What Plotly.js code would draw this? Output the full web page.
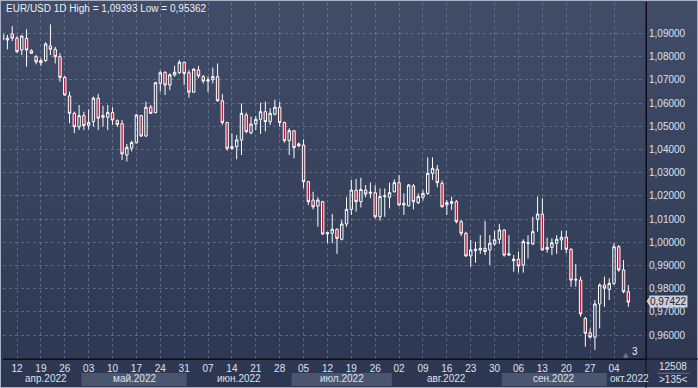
<!DOCTYPE html>
<html>
<head>
<meta charset="utf-8">
<script src="https://cdn.plot.ly/plotly-3.0.1.min.js"></script>
<style>
  html, body { margin: 0; padding: 0; background: #2c3651; }
  #wrap { position: relative; width: 698px; height: 388px;
          background: linear-gradient(to bottom, #404c68 0%, #36415c 55%, #2c3650 100%);
          box-shadow: inset 0 0 0 1px #a9b1c2; }
  #chart { position: absolute; left: 0; top: 0; width: 698px; height: 388px; }
</style>
</head>
<body>
<div id="wrap"><div id="chart"></div></div>
<script>
// ---- data (EUR/USD daily) ----
const startDate = '2022-04-07';
const openVals = [
 1.0894,1.0872,1.0898,1.0879,1.0829,1.0879,1.0826,1.0800,1.0774,1.0783,
 1.0846,1.0832,1.0800,1.0711,1.0631,1.0556,1.0498,1.0546,1.0504,1.0520,
 1.0621,1.0539,1.0539,1.0559,1.0524,1.0511,1.0376,1.0406,1.0429,1.0546,
 1.0458,1.0582,1.0559,1.0685,1.0733,1.0678,1.0721,1.0731,1.0776,1.0731,
 1.0647,1.0743,1.0714,1.0695,1.0701,1.0714,1.0610,1.0516,1.0405,1.0412,
 1.0441,1.0549,1.0472,1.0510,1.0530,1.0563,1.0520,1.0552,1.0582,1.0516,
 1.0438,1.0481,1.0416,1.0419,1.0261,1.0182,1.0156,1.0175,1.0036,1.0039,
 1.0056,1.0013,1.0079,1.0142,1.0225,1.0175,1.0225,1.0211,1.0214,1.0110,
 1.0197,1.0194,1.0218,1.0257,1.0161,1.0157,1.0243,1.0171,1.0194,1.0211,
 1.0297,1.0315,1.0254,1.0161,1.0168,1.0175,1.0089,1.0039,0.9941,0.9964,
 0.9967,0.9974,0.9967,0.9993,1.0013,1.0053,0.9945,0.9921,0.9927,0.9902,
 0.9996,0.9993,1.0099,1.0122,0.9970,0.9978,0.9996,1.0010,1.0022,0.9970,
 0.9837,0.9837,0.9672,0.9610,0.9591,0.9734,0.9816,0.9797,0.9823,0.9981,
 0.9881,0.9787
];
const highVals = [
 1.0908,1.0894,1.0932,1.0889,1.0894,1.0918,1.0832,1.0807,1.0793,1.0862,
 1.09393,1.0843,1.0815,1.0717,1.0649,1.0563,1.0592,1.0563,1.0573,1.0628,
 1.0640,1.0588,1.0592,1.0582,1.0530,1.0527,1.0424,1.0438,1.0553,1.0549,
 1.0606,1.0592,1.0692,1.0740,1.0736,1.0728,1.0760,1.0786,1.0779,1.0743,
 1.0750,1.0760,1.0721,1.0714,1.0753,1.0771,1.0639,1.0520,1.0470,1.0462,
 1.0599,1.0559,1.0542,1.0544,1.0602,1.0606,1.0578,1.0615,1.0606,1.0520,
 1.0491,1.0484,1.0430,1.0444,1.0265,1.0218,1.0194,1.0179,1.0046,1.0122,
 1.0060,1.0097,1.0194,1.0269,1.0273,1.0278,1.0247,1.0258,1.0246,1.0232,
 1.0232,1.0257,1.0271,1.0290,1.0211,1.0251,1.0251,1.0211,1.0225,1.0366,
 1.0366,1.0333,1.0266,1.0182,1.0197,1.0182,1.0096,1.0046,1.0010,1.0002,
 1.0031,1.0092,1.0031,1.0050,1.0079,1.0056,1.0031,0.9945,0.9960,1.0013,
 1.0030,1.0110,1.0197,1.0190,1.0020,1.0017,1.0031,1.0050,1.0050,0.9974,
 0.9906,0.9852,0.9679,0.9629,0.9751,0.9823,0.9852,0.9845,0.9996,0.9988,
 0.9924,0.9816
];
const lowVals = [
 1.0868,1.0832,1.0868,1.0815,1.0807,1.0757,1.0812,1.0767,1.0760,1.0778,
 1.0807,1.0771,1.0692,1.0631,1.0513,1.0470,1.0484,1.0484,1.0487,1.0498,
 1.0484,1.0498,1.0484,1.0506,1.0498,1.0355,1.0348,1.0392,1.0426,1.0455,
 1.0455,1.0553,1.0556,1.0649,1.0635,1.0656,1.0714,1.0725,1.0678,1.0623,
 1.0644,1.0707,1.0685,1.0647,1.0685,1.0606,1.0506,1.0395,1.0398,1.0358,
 1.0376,1.0470,1.0466,1.0484,1.0467,1.0478,1.0506,1.0547,1.0498,1.0429,
 1.0376,1.0362,1.0410,1.0233,1.0161,1.0142,1.0067,1.0032,0.9996,0.9996,
 0.9950,1.0008,1.0067,1.0118,1.0132,1.0150,1.0194,1.0190,1.0103,1.0093,
 1.0110,1.0146,1.0214,1.0157,1.0118,1.0155,1.0142,1.0165,1.0180,1.0204,
 1.0269,1.0237,1.0150,1.0118,1.0139,1.0082,1.0027,0.9938,0.9895,0.9912,
 0.9950,0.9945,0.9902,0.9985,0.9993,0.9938,0.9941,0.9873,0.9869,0.9869,
 0.9930,0.9988,1.0046,0.9964,0.9955,0.9945,0.9950,0.9967,0.9953,0.9809,
 0.9809,0.9679,0.9550,0.9586,0.95362,0.9629,0.9722,0.9751,0.9816,0.9873,
 0.9780,0.9722
];
const closeVals = [
 1.0875,1.0879,1.0880,1.0822,1.0889,1.0829,1.0815,1.0778,1.0783,1.0855,
 1.0832,1.0800,1.0711,1.0635,1.0556,1.0498,1.0546,1.0503,1.0517,1.0621,
 1.0535,1.0546,1.0559,1.0527,1.0508,1.0381,1.0409,1.0430,1.0549,1.0458,
 1.0582,1.0556,1.0688,1.0731,1.0678,1.0722,1.0733,1.0776,1.0728,1.0647,
 1.0746,1.0717,1.0695,1.0700,1.0714,1.0610,1.0516,1.0405,1.0412,1.0441,
 1.0556,1.0477,1.0510,1.0530,1.0563,1.0520,1.0556,1.0582,1.0516,1.0438,
 1.0481,1.0408,1.0424,1.0261,1.0175,1.0153,1.0182,1.0036,1.0041,1.0056,
 1.0017,1.0079,1.0142,1.0225,1.0175,1.0228,1.0208,1.0216,1.0110,1.0197,
 1.0200,1.0214,1.0257,1.0161,1.0168,1.0247,1.0175,1.0197,1.0211,1.0297,
 1.0319,1.0257,1.0153,1.0171,1.0175,1.0089,1.0039,0.9941,0.9967,0.9970,
 0.9974,0.9960,0.9996,1.0011,1.0053,0.9945,0.9950,0.9927,0.9898,1.0003,
 0.9998,1.0046,1.0122,0.9967,0.9978,0.9998,1.0013,1.0022,0.9970,0.9837,
 0.9840,0.9691,0.9608,0.9591,0.9734,0.9816,0.9802,0.9823,0.9981,0.9881,
 0.9787,0.97422
];
const priceTicks = [0.96,0.97,0.98,0.99,1.00,1.01,1.02,1.03,1.04,1.05,1.06,1.07,1.08,1.09];
const monthNames = ['янв','фев','мар','апр','май','июн','июл','авг','сен','окт','ноя','дек'];
const symbolText = 'EUR/USD 1D';
const footerTop = '12508';
const footerBottom = '>135<';
const rightCount = '3';

// ---- trading-day categories ----
const dates = [];
{
  let d = new Date(startDate + 'T00:00:00Z');
  while (dates.length < closeVals.length) {
    const wd = d.getUTCDay();
    if (wd !== 0 && wd !== 6) dates.push(new Date(d));
    d = new Date(d.getTime() + 86400000);
  }
}
const xIdx = dates.map((_, i) => i);
const fmt = v => v.toFixed(5).replace('.', ',');
const FONT = 'Liberation Sans, Arial, sans-serif';

// axis geometry
const xMin = 0.069, xMax = 134.70;
const yMin = 0.949698, yMax = 1.103578;

// weekly ticks (Tuesdays)
const tickIdx = [], tickTxt = [];
dates.forEach((d, i) => {
  if (d.getUTCDay() === 2) { tickIdx.push(i); tickTxt.push(String(d.getUTCDate()).padStart(2, '0')); }
});

// months
const months = [];
dates.forEach((d, i) => {
  const key = d.getUTCFullYear() * 12 + d.getUTCMonth();
  const last = months[months.length - 1];
  if (!last || last.key !== key) months.push({ key, m: d.getUTCMonth(), y: d.getUTCFullYear(), first: i, last: i });
  else last.last = i;
});

const shapes = [];
const annotations = [];
const bandY0 = -0.0756, bandY1 = -0.0392;
months.forEach((mo, k) => {
  const a = Math.max(mo.first - 0.5, xMin);
  const b = (k === months.length - 1) ? xMax : Math.min(mo.last + 0.5, xMax);
  if (k % 2 === 1) {
    shapes.push({ type: 'rect', xref: 'x', yref: 'paper', x0: a, x1: b, y0: bandY0, y1: bandY1,
      fillcolor: '#4a5670', line: { width: 0 }, layer: 'below' });
  }
  const isLast = k === months.length - 1;
  annotations.push({ xref: 'x', yref: 'paper', x: isLast ? a : (a + b) / 2 + (k === 0 ? 0.7 : 0),
    xanchor: isLast ? 'left' : 'center', xshift: isLast ? 1 : 0,
    y: -0.0545, yanchor: 'middle',
    text: monthNames[mo.m] + '.' + mo.y, showarrow: false,
    font: { family: FONT, size: 10, color: '#dde2ea' } });
});

// extend vertical axis line down through footer
shapes.push({ type: 'line', xref: 'paper', yref: 'paper', x0: 1, x1: 1, y0: -0.09, y1: 1,
  line: { color: '#0c0f16', width: 1 } });
// extend horizontal axis line into right column
shapes.push({ type: 'line', xref: 'paper', yref: 'paper', x0: 0, x1: 1.09, y0: 0, y1: 0,
  line: { color: '#0c0f16', width: 1 } });
// separator line in footer box
shapes.push({ type: 'line', xref: 'paper', yref: 'paper', x0: 1.018, x1: 1.068, y0: -0.04, y1: -0.04,
  line: { color: '#66708a', width: 1 } });

const hi = Math.max(...highVals), lo = Math.min(...lowVals);
annotations.push({ xref: 'paper', yref: 'paper', x: 0.0015, y: 0.983, xanchor: 'left', yanchor: 'middle',
  text: symbolText + ' High = ' + fmt(hi) + ' Low = ' + fmt(lo), showarrow: false,
  font: { family: FONT, size: 10, color: '#eef0f4' } });

const lastClose = closeVals[closeVals.length - 1];
annotations.push({ xref: 'paper', yref: 'y', x: 1, xshift: 3, yshift: 1, y: lastClose, xanchor: 'left', yanchor: 'middle',
  text: fmt(lastClose), showarrow: false, bgcolor: '#c9ced8', borderpad: 0,
  font: { family: FONT, size: 10, color: '#1b2232' } });
// small pointer at the left of the price box
const pv = 0.0022;
shapes.push({ type: 'path', xref: 'paper', yref: 'y',
  path: 'M1.0062,' + (lastClose + pv + 0.0004) + ' L1.0008,' + (lastClose + 0.0004) + ' L1.0062,' + (lastClose - pv + 0.0004) + ' Z',
  fillcolor: '#c9ced8', line: { width: 0 } });

annotations.push({ xref: 'paper', yref: 'paper', x: 1.042, xanchor: 'center', y: -0.0224, yanchor: 'middle',
  text: footerTop, showarrow: false,
  font: { family: FONT, size: 10, color: '#dde2ea' } });
annotations.push({ xref: 'paper', yref: 'paper', x: 1.042, xanchor: 'center', y: -0.057, yanchor: 'middle',
  text: footerBottom, showarrow: false,
  font: { family: FONT, size: 10, color: '#dde2ea' } });
annotations.push({ xref: 'paper', yref: 'paper', x: 0.983, xanchor: 'center', y: 0.02, yanchor: 'middle',
  text: rightCount, showarrow: false,
  font: { family: FONT, size: 10, color: '#eef0f4' } });
annotations.push({ xref: 'paper', yref: 'paper', x: 0.969, xanchor: 'center', y: 0.012, yanchor: 'middle',
  text: '▲', showarrow: false,
  font: { family: 'DejaVu Sans, sans-serif', size: 7, color: '#6f7990' } });

const trace = {
  type: 'candlestick',
  x: xIdx, open: openVals, high: highVals, low: lowVals, close: closeVals,
  increasing: { line: { color: '#ffffff', width: 1 }, fillcolor: 'rgba(0,0,0,0)' },
  decreasing: { line: { color: '#ffffff', width: 1 }, fillcolor: '#c01c3c' },
  whiskerwidth: 0, hoverinfo: 'skip', showlegend: false
};

const gridColor = 'rgba(125,140,172,0.55)';
const layout = {
  width: 698, height: 388,
  margin: { l: 3, r: 52, t: 2, b: 29, pad: 0 },
  paper_bgcolor: 'rgba(0,0,0,0)', plot_bgcolor: 'rgba(0,0,0,0)',
  showlegend: false, boxgap: 0.28,
  font: { family: FONT, size: 10, color: '#dde2ea' },
  xaxis: {
    type: 'linear', range: [xMin, xMax], fixedrange: true,
    tickmode: 'array', tickvals: tickIdx, ticktext: tickTxt, ticks: '',
    showgrid: true, gridcolor: gridColor, griddash: '3px,3px', gridwidth: 1,
    zeroline: false, showline: true, linecolor: '#0c0f16', linewidth: 1,
    rangeslider: { visible: false },
    tickfont: { family: FONT, size: 10, color: '#dde2ea' }
  },
  yaxis: {
    side: 'right', range: [yMin, yMax], fixedrange: true,
    tickmode: 'array', tickvals: priceTicks, ticktext: priceTicks.map(fmt), ticks: '',
    showgrid: true, gridcolor: gridColor, griddash: '3px,3px', gridwidth: 1,
    zeroline: false, showline: true, linecolor: '#0c0f16', linewidth: 1,
    tickfont: { family: FONT, size: 10, color: '#dde2ea' }
  },
  shapes, annotations
};

Plotly.newPlot('chart', [trace], layout, { displayModeBar: false, staticPlot: true });
</script>
</body>
</html>
